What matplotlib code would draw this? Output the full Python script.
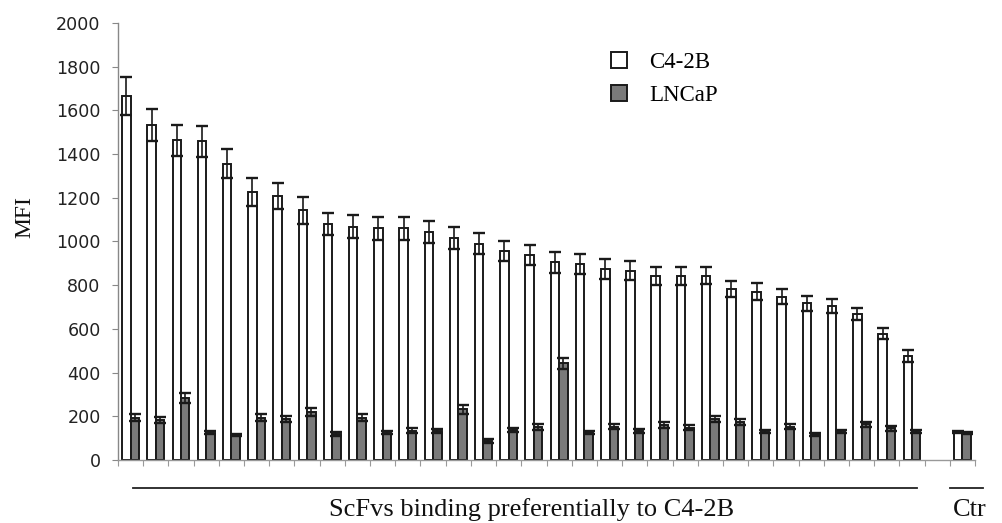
import numpy as np
import matplotlib
matplotlib.use("Agg")
import matplotlib.pyplot as plt
from matplotlib.patches import Patch
import matplotlib.transforms as mtransforms

# ---- data ----
categories = [str(i) for i in range(1, 33)] + ["", "Ctr"]
c42b = [1666, 1533, 1463, 1459, 1356, 1225, 1207, 1143, 1080, 1068,
        1060, 1060, 1044, 1015, 990, 958, 938, 905, 896, 874,
        867, 844, 844, 844, 781, 770, 748, 717, 706, 668,
        577, 476, np.nan, 130]
c42b_err = [88, 74, 72, 71, 66, 64, 59, 61, 49, 53,
            54, 54, 50, 51, 48, 46, 46, 49, 46, 45,
            42, 41, 41, 39, 37, 39, 33, 35, 31, 29,
            25, 27, np.nan, 5]
lncap = [194, 183, 282, 125, 114, 194, 188, 221, 119, 194,
         125, 135, 133, 232, 88, 137, 152, 442, 127, 152,
         134, 160, 148, 188, 175, 130, 152, 117, 130, 163,
         145, 130, np.nan, 125]
lncap_err = [16, 12, 23, 8, 6, 15, 12, 18, 7, 15,
             8, 10, 10, 20, 8, 10, 13, 26, 8, 12,
             10, 12, 12, 13, 13, 8, 12, 8, 8, 10,
             10, 8, np.nan, 5]
series_labels = ["C4-2B", "LNCaP"]
yticks = list(range(0, 2001, 200))

# ---- figure ----
W, H = 1002, 523
fig = plt.figure(figsize=(W / 100, H / 100), dpi=100)
ax = fig.add_axes([118 / W, 1 - 460 / H, (975 - 118) / W, (460 - 23) / H])

x = np.arange(len(categories))
bw = 0.336
grey = "#7a7a7a"
edge = "#1a1a1a"
ax.bar(x - bw / 2, c42b, bw, color="white", edgecolor=edge, linewidth=1.4, zorder=2)
ax.bar(x + bw / 2, lncap, bw, color=grey, edgecolor=edge, linewidth=1.4, zorder=2)
ax.errorbar(x - bw / 2, c42b, yerr=c42b_err, fmt="none", ecolor=edge,
            elinewidth=1.2, capsize=4.5, capthick=1.7, zorder=3)
ax.errorbar(x + bw / 2, lncap, yerr=lncap_err, fmt="none", ecolor=edge,
            elinewidth=1.2, capsize=4.5, capthick=1.7, zorder=3)

ax.set_xlim(-0.5, len(categories) - 0.5)
ax.set_ylim(0, 2000)
ax.set_yticks(yticks)
ax.tick_params(axis="y", labelsize=12.6, length=4, color="#888888", pad=8.5, labelcolor="#222222")
ax.set_xticks(np.arange(-0.5, len(categories), 1.0))
ax.set_xticklabels([])
ax.tick_params(axis="x", length=4, color="#999999", direction="out")
for s in ["top", "right"]:
    ax.spines[s].set_visible(False)
ax.spines["left"].set_color("#888888")
ax.spines["bottom"].set_color("#999999")
ax.spines["left"].set_linewidth(1.0)
ax.spines["bottom"].set_linewidth(1.0)

fig.text(25 / W, 1 - 217 / H, "MFI", rotation=90, ha="center", va="center",
         fontsize=17, family="Liberation Serif", color="#111111")

# group underlines and labels
trans = mtransforms.blended_transform_factory(ax.transData, ax.transAxes)
ly = -28 / 437
ax.plot([0.09, 31.2], [ly, ly], transform=trans, color="#222222", lw=1.3, clip_on=False)
ax.plot([32.5, 33.8], [ly, ly], transform=trans, color="#222222", lw=1.3, clip_on=False)
ty = -50 / 437
ax.text(15.9, ty, "ScFvs binding preferentially to C4-2B", transform=trans,
        ha="center", va="center", fontsize=19, family="Liberation Serif", color="#111111")
ax.text(33.3, ty, "Ctr", transform=trans, ha="center", va="center",
        fontsize=19, family="Liberation Serif", color="#111111")

handles = [Patch(facecolor="white", edgecolor=edge, linewidth=1.4),
           Patch(facecolor=grey, edgecolor=edge, linewidth=1.4)]
fig.legend(handles, series_labels, loc="upper left",
           bbox_to_anchor=(611 / W, 1 - 52 / H), frameon=False,
           prop={"family": "Liberation Serif", "size": 16.5},
           handlelength=0.7, handleheight=0.7, handletextpad=0.95,
           labelspacing=0.5, borderpad=0, borderaxespad=0)

fig.savefig("out.png", dpi=100)
